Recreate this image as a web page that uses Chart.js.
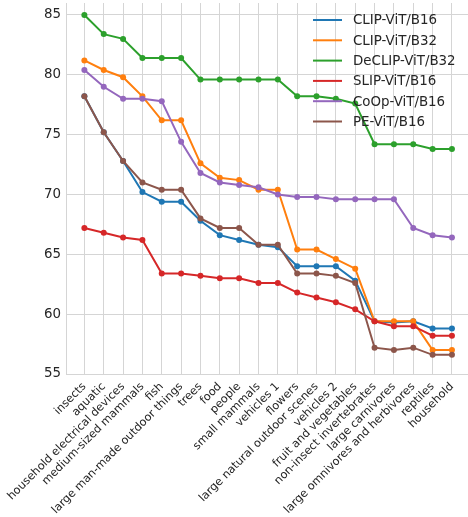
<!DOCTYPE html>
<html>
<head>
<meta charset="utf-8">
<script src="https://cdn.jsdelivr.net/npm/chart.js@4/dist/chart.umd.min.js"></script>
<style>
  html, body { margin: 0; padding: 0; background: #ffffff; overflow: hidden; }
  #wrap { position: relative; width: 468px; height: 517px; overflow: hidden; }
</style>
</head>
<body>
<div id="wrap"><canvas id="chart" width="471" height="517"></canvas></div>
<script>
// Superclass categories, in the order they are plotted
const categories = [
  'insects', 'aquatic', 'household electrical devices', 'medium-sized mammals', 'fish',
  'large man-made outdoor things', 'trees', 'food', 'people', 'small mammals',
  'vehicles 1', 'flowers', 'large natural outdoor scenes', 'vehicles 2',
  'fruit and vegetables', 'non-insect invertebrates', 'large carnivores',
  'large omnivores and herbivores', 'reptiles', 'household'
];

// Accuracy (%) per category for each model
const clipB16  = [78.2, 75.2, 72.8, 70.2, 69.4, 69.4, 67.8, 66.6, 66.2, 65.8, 65.6, 64.0, 64.0, 64.0, 62.8, 59.4, 59.3, 59.4, 58.8, 58.8];
const clipB32  = [81.2, 80.4, 79.8, 78.2, 76.2, 76.2, 72.6, 71.4, 71.2, 70.4, 70.4, 65.4, 65.4, 64.6, 63.8, 59.4, 59.4, 59.4, 57.0, 57.0];
const declipB32 = [85.0, 83.4, 83.0, 81.4, 81.4, 81.4, 79.6, 79.6, 79.6, 79.6, 79.6, 78.2, 78.2, 78.0, 77.6, 74.2, 74.2, 74.2, 73.8, 73.8];
const slipB16  = [67.2, 66.8, 66.4, 66.2, 63.4, 63.4, 63.2, 63.0, 63.0, 62.6, 62.6, 61.8, 61.4, 61.0, 60.4, 59.4, 59.0, 59.0, 58.2, 58.2];
const coopB16  = [80.4, 79.0, 78.0, 78.0, 77.8, 74.4, 71.8, 71.0, 70.8, 70.6, 70.0, 69.8, 69.8, 69.6, 69.6, 69.6, 69.6, 67.2, 66.6, 66.4];
const peB16    = [78.2, 75.2, 72.8, 71.0, 70.4, 70.4, 68.0, 67.2, 67.2, 65.8, 65.8, 63.4, 63.4, 63.2, 62.6, 57.2, 57.0, 57.2, 56.6, 56.6];

const seriesNames = ['CLIP-ViT/B16', 'CLIP-ViT/B32', 'DeCLIP-ViT/B32', 'SLIP-ViT/B16', 'CoOp-ViT/B16', 'PE-ViT/B16'];
const seriesValues = [clipB16, clipB32, declipB32, slipB16, coopB16, peB16];
const yTicks = [55, 60, 65, 70, 75, 80, 85];

const palette = ['#1f77b4', '#ff7f0e', '#2ca02c', '#d62728', '#9467bd', '#8c564b'];
const FONT = 'DejaVu Sans';
const TEXT = '#262626';
const GRID = '#d5d5d5';

const datasets = seriesValues.map((vals, i) => ({
  label: seriesNames[i],
  data: vals.map((v, k) => ({ x: k, y: v })),
  borderColor: palette[i],
  backgroundColor: palette[i],
  borderWidth: 2,
  pointRadius: 3,
  pointBorderWidth: 0,
  pointHoverRadius: 3,
  tension: 0,
  fill: false,
  order: seriesValues.length - 1 - i
}));

// Legend drawn inside the plot, upper right, without a frame
const innerLegend = {
  id: 'innerLegend',
  afterDatasetsDraw(chart) {
    const { ctx, chartArea } = chart;
    const textX = chartArea.right - 115;
    const lineX0 = textX - 40, lineX1 = textX - 11;
    const top = chartArea.top + 17, step = 20.3;
    ctx.save();
    ctx.font = '13.4px "' + FONT + '"';
    ctx.textBaseline = 'middle';
    ctx.textAlign = 'left';
    chart.data.datasets.forEach((ds, i) => {
      const y = top + i * step;
      ctx.strokeStyle = ds.borderColor;
      ctx.lineWidth = 2;
      ctx.beginPath();
      ctx.moveTo(lineX0, y);
      ctx.lineTo(lineX1, y);
      ctx.stroke();
      ctx.fillStyle = TEXT;
      ctx.fillText(ds.label, textX, y + 1);
    });
    ctx.restore();
  }
};

new Chart(document.getElementById('chart'), {
  type: 'line',
  data: { datasets },
  plugins: [innerLegend],
  options: {
    responsive: false,
    animation: false,
    layout: { padding: 0 },
    plugins: { legend: { display: false }, tooltip: { enabled: false } },
    scales: {
      x: {
        type: 'linear',
        min: -0.95,
        max: categories.length - 1 + 0.83,
        afterBuildTicks(scale) {
          scale.ticks = categories.map((c, i) => ({ value: i }));
        },
        afterFit(scale) {
          scale.height = 143;
          scale.paddingLeft = 0;
          scale.paddingRight = 0;
        },
        grid: { color: GRID, lineWidth: 1, drawTicks: false },
        border: { color: GRID, width: 1 },
        ticks: {
          autoSkip: false,
          minRotation: 45,
          maxRotation: 45,
          padding: 6,
          color: TEXT,
          font: { family: FONT, size: 11.3 },
          callback: (v) => categories[v]
        }
      },
      y: {
        min: 55,
        max: 86,
        afterBuildTicks(scale) {
          scale.ticks = yTicks.map(v => ({ value: v }));
        },
        afterFit(scale) {
          scale.width = 66;
          scale.paddingTop = 0;
          scale.paddingBottom = 0;
        },
        grid: { color: GRID, lineWidth: 1, drawTicks: false },
        border: { color: GRID, width: 1 },
        ticks: {
          padding: 5,
          color: TEXT,
          font: { family: FONT, size: 13.4 }
        }
      }
    }
  }
});
</script>
</body>
</html>
